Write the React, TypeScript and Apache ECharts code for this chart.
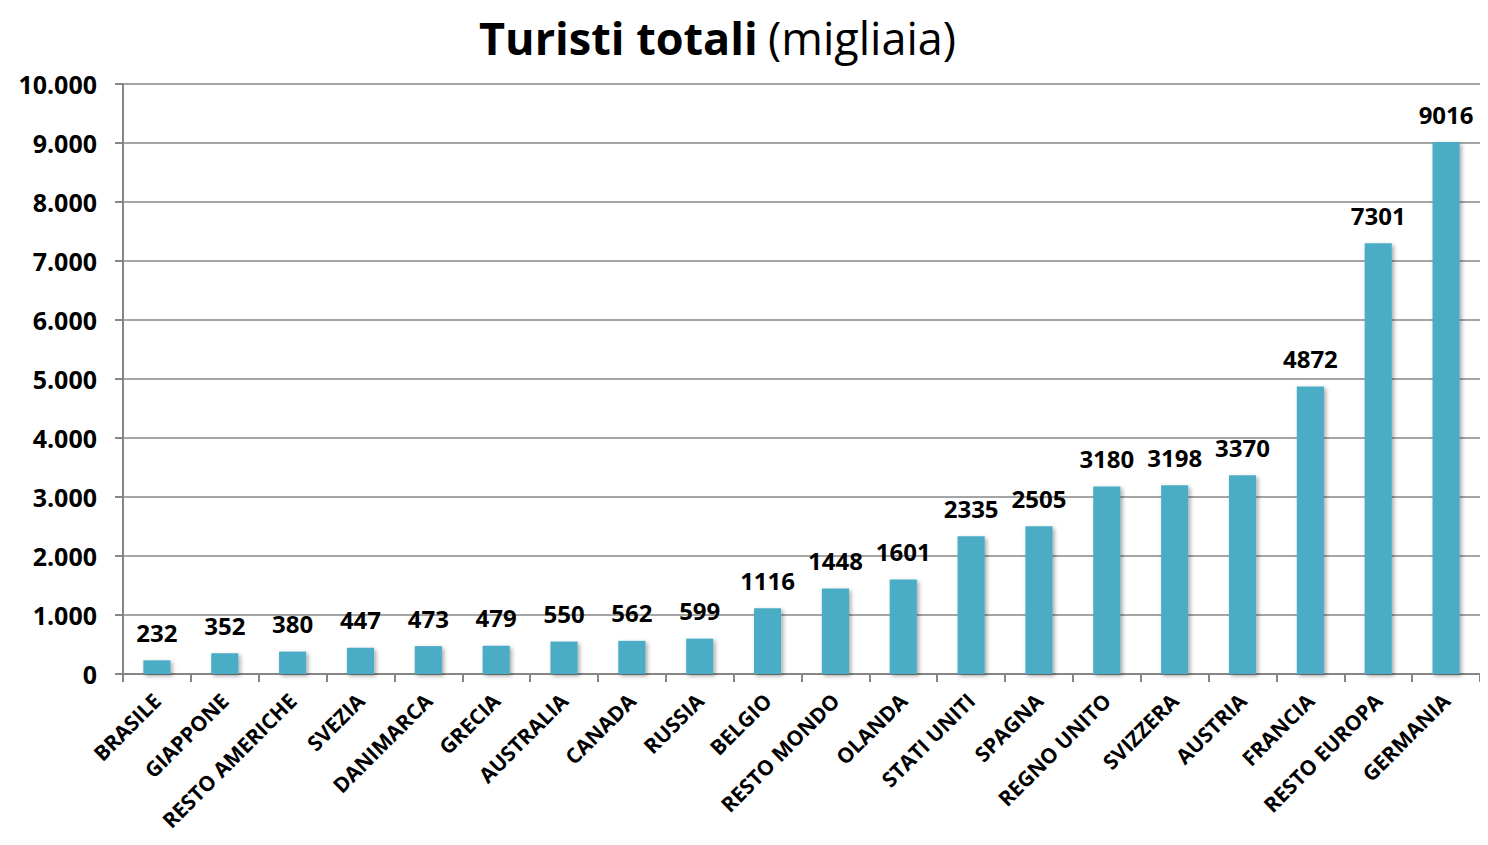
import React, { useEffect, useRef } from "react";
import * as echarts from "echarts";

const categories = [
  "BRASILE", "GIAPPONE", "RESTO AMERICHE", "SVEZIA", "DANIMARCA", "GRECIA",
  "AUSTRALIA", "CANADA", "RUSSIA", "BELGIO", "RESTO MONDO", "OLANDA",
  "STATI UNITI", "SPAGNA", "REGNO UNITO", "SVIZZERA", "AUSTRIA", "FRANCIA",
  "RESTO EUROPA", "GERMANIA",
];
const values = [
  232, 352, 380, 447, 473, 479, 550, 562, 599, 1116, 1448, 1601, 2335, 2505,
  3180, 3198, 3370, 4872, 7301, 9016,
];
const titleBold = "Turisti totali";
const titleNormal = "(migliaia)";

const FONT = "'Open Sans', 'Noto Sans', sans-serif";

export default function App() {
  const ref = useRef<HTMLDivElement>(null);
  useEffect(() => {
    if (!ref.current) return;
    const chart = echarts.init(ref.current, undefined, { renderer: "svg" });
    chart.setOption({
      animation: false,
      backgroundColor: "#ffffff",
      title: [
        {
          text: titleBold,
          left: 466,
          top: 2,
          textStyle: { fontFamily: FONT, fontWeight: "bold", fontSize: 45, color: "#000" },
        },
        {
          text: titleNormal,
          left: 755,
          top: 2,
          textStyle: { fontFamily: FONT, fontWeight: "normal", fontSize: 45, color: "#000" },
        },
      ],
      grid: {
        left: 115,
        right: 0,
        top: 76,
        bottom: 163,
        containLabel: false,
        outerBoundsMode: "none",
      },
      xAxis: {
        type: "category",
        data: categories,
        axisLine: { lineStyle: { color: "#868686", width: 2 } },
        axisTick: { show: true, length: 8, alignWithLabel: false, lineStyle: { color: "#868686", width: 2 } },
        axisLabel: {
          rotate: 45,
          interval: 0,
          margin: 23,
          fontFamily: FONT,
          fontWeight: "bold",
          fontSize: 21,
          color: "#000",
        },
      },
      yAxis: {
        type: "value",
        min: 0,
        max: 10000,
        interval: 1000,
        axisLine: { show: true, lineStyle: { color: "#868686", width: 2 } },
        axisTick: { show: true, length: 8, lineStyle: { color: "#868686", width: 2 } },
        splitLine: { lineStyle: { color: "#878787", width: 1.5 } },
        axisLabel: {
          margin: 26,
          fontFamily: FONT,
          fontWeight: "bold",
          fontSize: 25,
          color: "#000",
          formatter: (v: number) => v.toLocaleString("de-DE"),
        },
      },
      series: [
        {
          type: "bar",
          data: values,
          barWidth: "40%",
          itemStyle: {
            color: "#4BACC6",
            shadowColor: "rgba(0,0,0,0.35)",
            shadowBlur: 4,
            shadowOffsetX: 2,
            shadowOffsetY: 2,
          },
          label: {
            show: true,
            position: "top",
            distance: 16,
            fontFamily: FONT,
            fontWeight: "bold",
            fontSize: 24,
            color: "#000",
          },
        },
      ],
    });
    return () => chart.dispose();
  }, []);
  return <div ref={ref} style={{ width: 1472, height: 829 }} />;
}
